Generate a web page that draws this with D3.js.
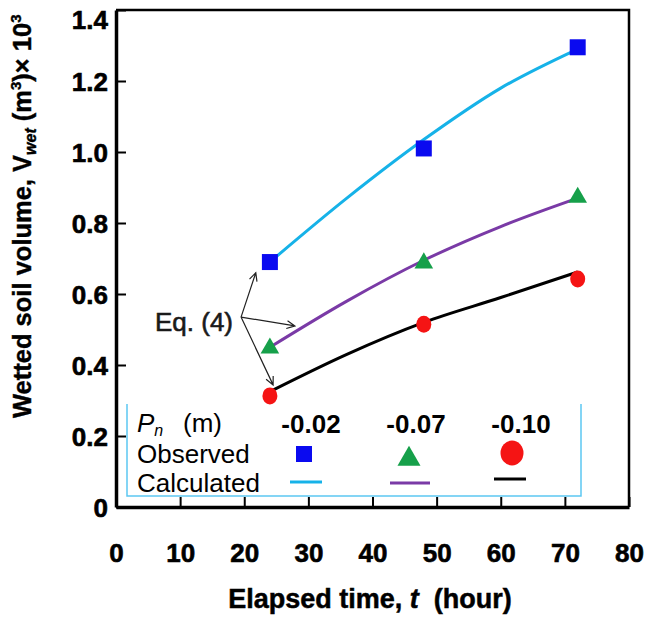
<!DOCTYPE html>
<html>
<head>
<meta charset="utf-8">
<script src="https://cdn.jsdelivr.net/npm/d3@7"></script>
<style>
  body { margin: 0; background: #fff; }
  svg { display: block; font-family: "Liberation Sans", Arial, sans-serif; }
</style>
</head>
<body>
<div class="chart"></div>
<script>
// observed data (hours, volume x 10^3 m3)
var hours = [24, 48, 72];
var obsSquare = [0.69, 1.01, 1.295];
var obsTriangle = [0.45, 0.69, 0.875];
var obsCircle = [0.313, 0.515, 0.642];

// calculated curves, Eq. (4)
var calcHours = [24, 36, 48, 60, 72];
var calcCyan = [0.69, 0.87, 1.035, 1.18, 1.29];
var calcPurple = [0.45, 0.58, 0.695, 0.79, 0.87];
var calcBlack = [0.325, 0.43, 0.52, 0.59, 0.662];

var pnLabels = ["-0.02", "-0.07", "-0.10"];
var xTicks = [0, 10, 20, 30, 40, 50, 60, 70, 80];
var yTicks = [0, 0.2, 0.4, 0.6, 0.8, 1.0, 1.2, 1.4];

// annotation arrows: from label to curves (data units)
var eqFrom = [19.5, 0.535];
var eqTargets = [[21.8, 0.66], [27.9, 0.51], [24.5, 0.344]];

var W = 647, H = 619;
var margin = {left: 116, top: 10, right: 18, bottom: 112};

var svg = d3.select("div.chart").append("svg")
    .attr("width", W)
    .attr("height", H);

var x = d3.scaleLinear().domain([0, 80]).range([margin.left, W - margin.right]);
var y = d3.scaleLinear().domain([0, 1.4]).range([H - margin.bottom, margin.top]);

var blue = "#0a0af0", green = "#16a04a", red = "#f51414";
var cyan = "#16b2e8", purple = "#7a3aa6";

//frame top + right
svg.append("path")
    .attr("d", "M" + x(0) + "," + y(1.4) + "H" + x(80) + "V" + y(0))
    .attr("fill", "none")
    .attr("stroke", "#000")
    .attr("stroke-width", 2.5);

//axes (ticks inside)
var yAxis = svg.append("g")
    .attr("transform", "translate(" + x(0) + ",0)")
    .call(d3.axisLeft(y).tickValues(yTicks).tickSize(-10).tickSizeOuter(0).tickPadding(8)
      .tickFormat(function(d){ return d === 0 ? "0" : d3.format(".1f")(d); }));
yAxis.select(".domain").attr("stroke-width", 3.5);
yAxis.selectAll(".tick line").attr("stroke-width", 2);
yAxis.selectAll("text")
    .attr("font-size", 26)
    .attr("font-weight", "bold")
    .attr("fill", "#000")
    .attr("stroke", "#000").attr("stroke-width", 0.6)
    .attr("dy", function(d){ return d === 1.4 ? "0.7em" : "0.35em"; });

var xAxis = svg.append("g")
    .attr("transform", "translate(0," + y(0) + ")")
    .call(d3.axisBottom(x).tickValues(xTicks).tickSize(-10).tickSizeOuter(0).tickPadding(37));
xAxis.select(".domain").attr("stroke-width", 3.5);
xAxis.selectAll(".tick line").attr("stroke-width", 2);
xAxis.selectAll("text")
    .attr("font-size", 26)
    .attr("font-weight", "bold")
    .attr("fill", "#000")
    .attr("stroke", "#000").attr("stroke-width", 0.6);

//axis titles
var xt = svg.append("text")
    .attr("x", 370).attr("y", 608)
    .attr("text-anchor", "middle")
    .attr("font-size", 27).attr("font-weight", "bold")
    .attr("stroke", "#000").attr("stroke-width", 0.5);
xt.append("tspan").text("Elapsed time, ");
xt.append("tspan").attr("font-style", "italic").text("t");
xt.append("tspan").text("\u00a0 (hour)");

var yt = svg.append("text")
    .attr("transform", "translate(31,418) rotate(-90)")
    .attr("font-size", 25.5).attr("font-weight", "bold")
    .attr("stroke", "#000").attr("stroke-width", 0.4);
yt.append("tspan").text("Wetted soil volume, V");
yt.append("tspan").attr("font-size", 16).attr("font-style", "italic").attr("dy", 5).text("wet");
yt.append("tspan").attr("dy", -5).text(" (m");
yt.append("tspan").attr("font-size", 15).attr("dy", -10).text("3");
yt.append("tspan").attr("dy", 10).text(")\u00d7 10");
yt.append("tspan").attr("font-size", 15).attr("dy", -10).text("3");

//legend box (no top edge)
var lg = {x0: 127, x1: 581, y0: 404, y1: 496};
svg.append("path")
    .attr("d", "M" + lg.x0 + "," + lg.y0 + "V" + lg.y1 + "H" + lg.x1 + "V" + lg.y0)
    .attr("fill", "none")
    .attr("stroke", "#5cc8f2")
    .attr("stroke-width", 1.5);

//calculated lines
var line = d3.line()
    .x(function(d){ return x(d[0]); })
    .y(function(d){ return y(d[1]); })
    .curve(d3.curveMonotoneX);

[[calcCyan, cyan], [calcPurple, purple], [calcBlack, "#000"]].forEach(function(s){
  svg.append("path")
      .datum(d3.zip(calcHours, s[0]))
      .attr("d", line)
      .attr("fill", "none")
      .attr("stroke", s[1])
      .attr("stroke-width", 3);
});

//observed markers
svg.selectAll(".sq")
    .data(d3.zip(hours, obsSquare))
    .enter().append("rect")
    .attr("x", function(d){ return x(d[0]) - 8; })
    .attr("y", function(d){ return y(d[1]) - 8; })
    .attr("width", 16).attr("height", 16)
    .attr("fill", blue);

var tri = d3.symbol().type(d3.symbolTriangle).size(150);
svg.selectAll(".tri")
    .data(d3.zip(hours, obsTriangle))
    .enter().append("path")
    .attr("d", tri)
    .attr("transform", function(d){ return "translate(" + x(d[0]) + "," + (y(d[1]) + 1) + ")"; })
    .attr("fill", green);

svg.selectAll(".circ")
    .data(d3.zip(hours, obsCircle))
    .enter().append("ellipse")
    .attr("cx", function(d){ return x(d[0]); })
    .attr("cy", function(d){ return y(d[1]); })
    .attr("rx", 7.5).attr("ry", 8.5)
    .attr("fill", red);

//Eq. (4) annotation
svg.append("text")
    .attr("x", 155).attr("y", 331)
    .attr("font-size", 26)
    .attr("fill", "#1a1a1a")
    .attr("stroke", "#1a1a1a").attr("stroke-width", 0.6)
    .text("Eq. (4)");

var fx = x(eqFrom[0]), fy = y(eqFrom[1]);
eqTargets.forEach(function(t){
  var tx = x(t[0]), ty = y(t[1]);
  var a = Math.atan2(ty - fy, tx - fx), L = 9, sp = 0.45;
  svg.append("path")
      .attr("d", "M" + fx + "," + fy + "L" + tx + "," + ty +
        "M" + (tx - L * Math.cos(a - sp)) + "," + (ty - L * Math.sin(a - sp)) +
        "L" + tx + "," + ty +
        "L" + (tx - L * Math.cos(a + sp)) + "," + (ty - L * Math.sin(a + sp)))
      .attr("fill", "none")
      .attr("stroke", "#222")
      .attr("stroke-width", 1.2);
});

//legend content
var pn = svg.append("text").attr("x", 137).attr("y", 432).attr("font-size", 26);
pn.append("tspan").attr("font-style", "italic").text("P");
pn.append("tspan").attr("font-style", "italic").attr("font-size", 16).attr("dy", 4).text("n");
pn.append("tspan").attr("dy", -4).attr("x", 183).text("(m)");

var colX = [311, 416, 521];
svg.selectAll(".pn")
    .data(pnLabels)
    .enter().append("text")
    .attr("x", function(d, i){ return colX[i]; })
    .attr("y", 433)
    .attr("text-anchor", "middle")
    .attr("font-size", 26).attr("font-weight", "bold")
    .text(function(d){ return d; });

svg.append("text").attr("x", 137).attr("y", 463).attr("font-size", 26).text("Observed");
svg.append("text").attr("x", 137).attr("y", 492).attr("font-size", 26).text("Calculated");

svg.append("rect").attr("x", 296).attr("y", 446).attr("width", 16).attr("height", 16).attr("fill", blue);
svg.append("path").attr("d", d3.symbol().type(d3.symbolTriangle).size(230))
    .attr("transform", "translate(409,459)").attr("fill", green);
svg.append("ellipse").attr("cx", 512).attr("cy", 453).attr("rx", 11.5).attr("ry", 12.5).attr("fill", red);

[[290, 322, 482, cyan], [390, 430, 483, purple], [494, 526, 479, "#000"]].forEach(function(s){
  svg.append("line")
      .attr("x1", s[0]).attr("x2", s[1]).attr("y1", s[2]).attr("y2", s[2])
      .attr("stroke", s[3]).attr("stroke-width", 3);
});
</script>
</body>
</html>
